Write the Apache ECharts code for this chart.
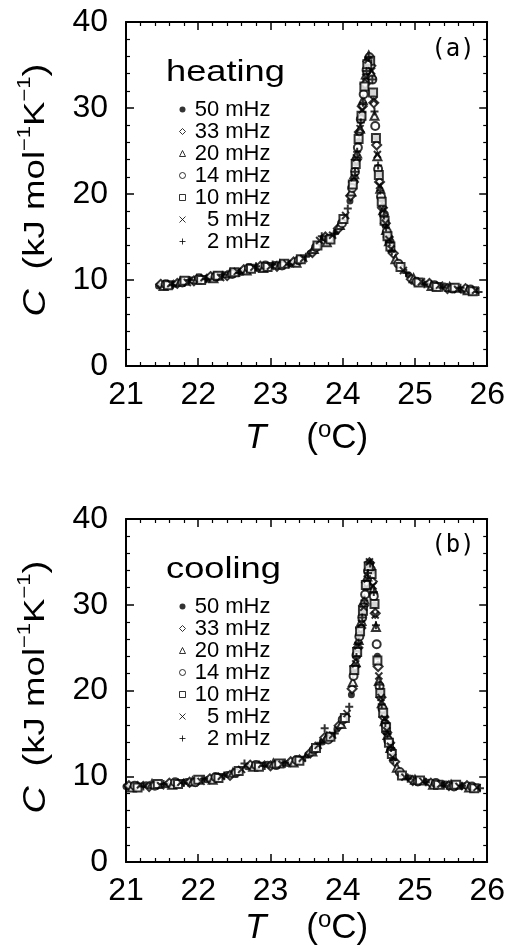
<!DOCTYPE html>
<html>
<head>
<meta charset="utf-8">
<script src="https://cdn.jsdelivr.net/npm/echarts@6/dist/echarts.min.js"></script>
<style>
  html, body { margin: 0; padding: 0; background: #fff; }
  #chart { width: 508px; height: 950px; }
</style>
</head>
<body>
<div id="chart"></div>
<script>
// frequencies (legend order)
const freqNames = ["50 mHz", "33 mHz", "20 mHz", "14 mHz", "10 mHz", "5 mHz", "2 mHz"];
const panelLabels = ["(a)", "(b)"];
const modeLabels = ["heating", "cooling"];

// heating: [T (oC), C (kJ/mol/K)]
const h50 = [[21.45,9.3],[21.68,9.5],[21.91,10.0],[22.14,10.1],[22.37,10.6],[22.60,10.9],[22.83,11.3],[23.06,11.8],[23.29,11.9],
  [23.55,13.1],[23.73,14.9],[23.91,15.6],
  [24.10,19.2],[24.18,23.6],[24.26,29.1],[24.34,35.2],[24.42,31.8],[24.50,22.3],[24.58,16.8],
  [24.14,21.2],[24.22,26.1],[24.30,32.5],[24.38,35.7],[24.46,26.6],[24.54,19.4],[24.62,15.2],
  [24.66,14.1],[24.91,10.6],[25.16,9.5],[25.41,9.3],[25.66,8.8]];
const h33 = [[21.48,9.5],[21.71,9.6],[21.94,9.9],[22.17,10.4],[22.40,10.5],[22.63,11.2],[22.86,11.6],[23.09,11.6],[23.32,12.1],
  [23.58,13.2],[23.76,15.0],[23.94,16.0],
  [24.11,19.8],[24.19,24.0],[24.27,30.2],[24.35,35.4],[24.43,30.6],[24.51,21.4],[24.59,16.6],
  [24.15,21.4],[24.23,27.2],[24.31,32.8],[24.39,34.9],[24.47,25.7],[24.55,18.4],[24.63,15.0],
  [24.70,13.1],[24.95,10.1],[25.20,9.6],[25.45,9.0],[25.70,9.0]];
const h20 = [[21.52,9.3],[21.75,9.8],[21.98,10.1],[22.21,10.2],[22.44,10.8],[22.67,11.1],[22.90,11.4],[23.13,11.8],[23.36,12.0],
  [23.60,13.6],[23.78,14.4],[23.96,16.4],
  [24.12,20.3],[24.20,24.7],[24.28,30.9],[24.36,36.1],[24.44,29.1],[24.52,20.6],[24.60,15.8],
  [24.16,22.3],[24.24,27.6],[24.32,33.9],[24.40,34.0],[24.48,24.4],[24.56,18.1],[24.64,14.5],
  [24.73,12.4],[24.98,10.2],[25.23,9.3],[25.48,9.2],[25.73,8.8]];
const h14 = [[21.55,9.5],[21.78,9.7],[22.01,10.2],[22.24,10.4],[22.47,10.7],[22.70,11.4],[22.93,11.7],[23.16,11.7],[23.39,12.3],
  [23.63,13.8],[23.81,14.8],[23.99,16.6],
  [24.13,20.7],[24.21,25.4],[24.29,31.6],[24.37,35.9],[24.45,27.9],[24.53,19.7],[24.61,15.6],
  [24.17,22.6],[24.25,28.7],[24.33,34.4],[24.41,33.3],[24.49,22.9],[24.57,17.6],[24.65,14.4],
  [24.77,11.9],[25.02,9.8],[25.27,9.4],[25.52,9.0],[25.77,8.9]];
const h10 = [[21.58,9.4],[21.81,9.9],[22.04,10.0],[22.27,10.5],[22.50,10.9],[22.73,11.3],[22.96,11.5],[23.19,11.9],[23.42,12.4],
  [23.65,14.0],[23.83,14.7],[24.01,17.1],
  [24.14,21.1],[24.22,26.4],[24.30,32.5],[24.38,35.5],[24.46,26.5],[24.54,19.1],[24.62,15.1],
  [24.18,23.5],[24.26,29.1],[24.34,35.1],[24.42,31.8],[24.50,22.2],[24.58,16.9],[24.66,13.9],
  [24.80,11.5],[25.05,9.7],[25.30,9.2],[25.55,9.1],[25.80,8.7]];
const h5 = [[21.62,9.6],[21.85,9.7],[22.08,10.3],[22.31,10.3],[22.54,11.0],[22.77,11.5],[23.00,11.6],[23.23,11.9],[23.46,12.5],
  [23.68,14.6],[23.86,15.2],[24.04,17.5],
  [24.16,21.9],[24.24,27.6],[24.32,33.6],[24.40,34.3],[24.48,24.6],[24.56,18.1],[24.64,14.7],
  [24.19,24.2],[24.27,29.8],[24.35,35.6],[24.43,30.9],[24.51,21.0],[24.59,16.6],[24.67,13.6],
  [24.84,11.1],[25.09,9.8],[25.34,9.4],[25.59,8.9],[25.84,8.8]];
const h2 = [[21.65,9.4],[21.88,10.0],[22.11,10.1],[22.34,10.6],[22.57,10.8],[22.80,11.6],[23.03,11.8],[23.26,11.8],[23.49,12.7],
  [23.71,15.1],[23.89,15.4],[24.07,18.3],
  [24.17,22.6],[24.25,28.3],[24.33,34.3],[24.41,33.3],[24.49,23.3],[24.57,17.5],[24.65,14.4],
  [24.20,24.9],[24.28,30.6],[24.36,35.8],[24.44,29.6],[24.52,20.4],[24.60,16.1],[24.68,13.3],
  [24.88,10.8],[25.13,9.5],[25.38,9.1],[25.63,9.1],[25.88,8.6]];

// cooling
const c50 = [[21.00,8.8],[21.28,9.0],[21.56,9.0],[21.84,9.4],[22.12,9.6],[22.40,10.2],[22.68,11.1],[22.96,11.4],[23.24,11.5],
  [23.52,12.5],[23.72,14.0],[23.92,15.5],
  [24.12,19.5],[24.20,24.8],[24.28,29.0],[24.36,34.6],[24.44,30.0],[24.52,20.0],[24.60,15.5],
  [24.16,22.1],[24.24,26.6],[24.32,31.9],[24.40,33.9],[24.48,24.0],[24.56,17.6],[24.64,14.0],
  [24.68,12.8],[24.93,9.8],[25.18,9.3],[25.43,9.1],[25.68,8.9]];
const c33 = [[21.04,8.9],[21.32,8.8],[21.60,9.2],[21.88,9.3],[22.16,9.7],[22.44,10.1],[22.72,11.3],[23.00,11.2],[23.28,11.7],
  [23.55,12.7],[23.75,14.5],[23.95,15.9],
  [24.13,20.2],[24.21,25.0],[24.29,29.9],[24.37,34.9],[24.45,29.0],[24.53,19.2],[24.61,15.1],
  [24.17,22.8],[24.25,27.3],[24.33,32.6],[24.41,32.7],[24.49,22.8],[24.57,16.9],[24.65,13.9],
  [24.72,11.7],[24.97,9.5],[25.22,9.2],[25.47,8.9],[25.72,8.9]];
const c20 = [[21.08,8.7],[21.36,9.1],[21.64,9.0],[21.92,9.4],[22.20,9.6],[22.48,10.4],[22.76,11.1],[23.04,11.5],[23.32,11.6],
  [23.58,12.9],[23.78,14.6],[23.98,16.1],
  [24.14,21.0],[24.22,25.9],[24.30,30.6],[24.38,34.7],[24.46,27.4],[24.54,18.5],[24.62,14.8],
  [24.18,23.3],[24.26,28.1],[24.34,33.3],[24.42,31.8],[24.50,21.1],[24.58,16.4],[24.66,13.3],
  [24.75,11.0],[25.00,9.6],[25.25,9.0],[25.50,9.0],[25.75,8.7]];
const c14 = [[21.12,8.9],[21.40,8.9],[21.68,9.3],[21.96,9.3],[22.24,9.9],[22.52,10.4],[22.80,11.3],[23.08,11.3],[23.36,11.9],
  [23.60,13.1],[23.80,14.3],[24.00,16.6],
  [24.15,21.7],[24.23,26.3],[24.31,31.2],[24.39,34.1],[24.47,25.4],[24.55,17.9],[24.63,14.2],
  [24.19,24.1],[24.27,28.5],[24.35,33.9],[24.43,31.0],[24.51,20.5],[24.59,16.1],[24.67,13.0],
  [24.79,10.5],[25.04,9.4],[25.29,9.2],[25.54,8.8],[25.79,8.8]];
const c10 = [[21.16,8.7],[21.44,9.1],[21.72,9.1],[22.00,9.6],[22.28,9.8],[22.56,10.6],[22.84,11.1],[23.12,11.5],[23.40,11.8],
  [23.63,13.3],[23.83,14.6],[24.03,16.8],
  [24.16,22.4],[24.24,26.9],[24.32,32.3],[24.40,33.6],[24.48,23.5],[24.56,17.4],[24.64,13.9],
  [24.20,24.5],[24.28,29.3],[24.36,34.5],[24.44,30.1],[24.52,19.7],[24.60,15.7],[24.68,12.6],
  [24.82,10.1],[25.07,9.5],[25.32,9.0],[25.57,9.0],[25.82,8.6]];
const c5 = [[21.20,9.0],[21.48,8.9],[21.76,9.3],[22.04,9.4],[22.32,10.0],[22.60,10.8],[22.88,11.4],[23.16,11.4],[23.44,12.1],
  [23.66,13.6],[23.86,14.8],[24.06,17.3],
  [24.18,23.1],[24.26,27.8],[24.34,33.0],[24.42,32.2],[24.50,21.7],[24.58,16.7],[24.66,13.5],
  [24.21,25.2],[24.29,29.7],[24.37,35.0],[24.45,28.8],[24.53,19.2],[24.61,15.3],[24.69,12.2],
  [24.86,9.9],[25.11,9.4],[25.36,9.1],[25.61,8.8],[25.86,8.7]];
const c2 = [[21.24,8.8],[21.52,9.1],[21.80,9.2],[22.08,9.7],[22.36,10.1],[22.64,11.5],[22.92,11.2],[23.20,11.6],[23.48,12.2],
  [23.69,13.9],[23.75,15.6],[23.89,15.0],[24.09,18.1],
  [24.19,23.9],[24.27,28.5],[24.35,33.7],[24.43,31.5],[24.51,20.7],[24.59,16.2],[24.67,13.3],
  [24.22,25.6],[24.30,30.5],[24.38,34.8],[24.46,27.6],[24.54,18.4],[24.62,14.9],[24.70,11.9],
  [24.90,9.7],[25.15,9.3],[25.40,8.9],[25.65,8.9],[25.90,8.6]];

const heatingData = [h50, h33, h20, h14, h10, h5, h2];
const coolingData = [c50, c33, c20, c14, c10, c5, c2];

const FONT = "'Liberation Sans', Arial, sans-serif";

// marker look for each frequency
const markers = [
  { symbol: "circle", symbolSize: 7, itemStyle: { color: "#000" } },
  { symbol: "diamond", symbolSize: 9, itemStyle: { color: "#fff", borderColor: "#000", borderWidth: 2 } },
  { symbol: "triangle", symbolSize: 8, itemStyle: { color: "#fff", borderColor: "#000", borderWidth: 2 } },
  { symbol: "circle", symbolSize: 8, itemStyle: { color: "#fff", borderColor: "#000", borderWidth: 2 } },
  { symbol: "rect", symbolSize: 8, itemStyle: { color: "#fff", borderColor: "#000", borderWidth: 2 } },
  { symbol: "path://M0,0L10,10M10,0L0,10", symbolSize: 7, itemStyle: { color: "none", borderColor: "#000", borderWidth: 2 } },
  { symbol: "path://M5,0L5,10M0,5L10,5", symbolSize: 8, itemStyle: { color: "none", borderColor: "#000", borderWidth: 2 } },
];

const grids = [
  { left: 126, top: 22, width: 363, height: 344 },
  { left: 126, top: 519, width: 363, height: 343 },
];

const axisLine = { onZero: false, lineStyle: { color: "#000", width: 2 } };
const axisTick = { inside: true, length: 8, lineStyle: { color: "#000", width: 1.5 } };
const minorTick = { show: true, splitNumber: 5, length: 4, lineStyle: { color: "#000", width: 1.2 } };

const xAxisFor = (gi, pos, gap) => ({
  type: "value",
  gridIndex: gi,
  position: pos,
  min: 21,
  max: 26,
  interval: 1,
  axisLine: axisLine,
  axisTick: axisTick,
  minorTick: minorTick,
  splitLine: { show: false },
  axisLabel: pos === "bottom"
    ? { color: "#000", fontSize: 32, fontFamily: FONT, margin: 13 }
    : { show: false },
  name: pos === "bottom" ? "{i|T}{g|}{t|(}{s|o}{t|C)}" : "",
  nameLocation: "middle",
  nameGap: gap,
  nameTextStyle: {
    color: "#000",
    fontFamily: FONT,
    rich: {
      i: { fontSize: 35, fontStyle: "italic", fontFamily: FONT, color: "#000" },
      g: { width: 40 },
      t: { fontSize: 35, fontFamily: FONT, color: "#000" },
      s: { fontSize: 24, fontFamily: FONT, color: "#000", padding: [0, 0, 16, 0] },
    },
  },
});

const yAxisFor = (gi, pos) => ({
  type: "value",
  gridIndex: gi,
  position: pos,
  min: 0,
  max: 40,
  interval: 10,
  axisLine: axisLine,
  axisTick: axisTick,
  minorTick: minorTick,
  splitLine: { show: false },
  axisLabel: pos === "left"
    ? { color: "#000", fontSize: 32, fontFamily: FONT, margin: 18 }
    : { show: false },
});

const buildSeries = () => {
  let series = [];
  [heatingData, coolingData].forEach((panel, gi) => {
    panel.forEach((pts, k) => {
      series.push({
        type: "scatter",
        name: freqNames[k],
        xAxisIndex: gi * 2,
        yAxisIndex: gi * 2,
        symbol: markers[k].symbol,
        symbolSize: markers[k].symbolSize,
        itemStyle: markers[k].itemStyle,
        data: pts,
      });
    });
  });
  return series;
};

const legendFor = (top) => ({
  orient: "vertical",
  left: 177,
  top: top,
  padding: 0,
  itemWidth: 6,
  itemHeight: 6,
  itemGap: 0,
  itemStyle: { borderWidth: 1 },
  data: freqNames,
  formatter: (name) => "{r|" + name + "}",
  textStyle: {
    color: "#000",
    fontFamily: FONT,
    fontSize: 22,
    lineHeight: 22,
    rich: { r: { width: 76, align: "right", padding: [0, 0, 0, 4], fontSize: 22, lineHeight: 22, fontFamily: FONT, color: "#000" } },
  },
});

// y-axis title, drawn as text stretched along its baseline like the original
const yTitleText = "{i|C}{g|}{p|(}{t|kJ mol}{s|\u22121}{t|K}{s|\u22121}{p|)}";
const yTitleRich = {
  i: { fontSize: 31, fontStyle: "italic", fontFamily: FONT, fill: "#000" },
  g: { width: 16 },
  p: { fontSize: 32, fontFamily: FONT, fill: "#000" },
  t: { fontSize: 30, fontFamily: FONT, fill: "#000" },
  s: { fontSize: 18, fontFamily: FONT, fill: "#000", padding: [0, 0, 22, 0] },
};

const yTitleFor = (cy) => ({
  type: "text",
  x: 36,
  y: cy,
  rotation: Math.PI / 2,
  scaleX: 1.22,
  style: { text: yTitleText, rich: yTitleRich, align: "center", verticalAlign: "middle", fill: "#000", font: "30px " + FONT },
});

const wordFor = (text, x, y) => ({
  type: "text",
  x: x,
  y: y,
  scaleX: 1.25,
  style: { text: text, font: "29px " + FONT, fill: "#000", align: "left", verticalAlign: "middle" },
});

const tagFor = (text, x, y) => ({
  type: "text",
  x: x,
  y: y,
  style: { text: text, font: "24px 'DejaVu Sans Mono', monospace", fill: "#000", align: "center", verticalAlign: "middle" },
});

const getOption = () => {
  return {
    animation: false,
    backgroundColor: "#fff",
    grid: grids,
    xAxis: [xAxisFor(0, "bottom", 52), xAxisFor(0, "top", 0), xAxisFor(1, "bottom", 44), xAxisFor(1, "top", 0)],
    yAxis: [yAxisFor(0, "left"), yAxisFor(0, "right"), yAxisFor(1, "left"), yAxisFor(1, "right")],
    legend: [legendFor(98.5), legendFor(595.5)],
    graphic: [
      yTitleFor(190),
      yTitleFor(687),
      wordFor(modeLabels[0], 166, 73),
      wordFor(modeLabels[1], 166, 570),
      tagFor(panelLabels[0], 453, 50),
      tagFor(panelLabels[1], 453, 546),
    ],
    series: buildSeries(),
  };
};

window.addEventListener("load", () => {
  const chart = echarts.init(document.getElementById("chart"));
  chart.setOption(getOption());
});
</script>
</body>
</html>
